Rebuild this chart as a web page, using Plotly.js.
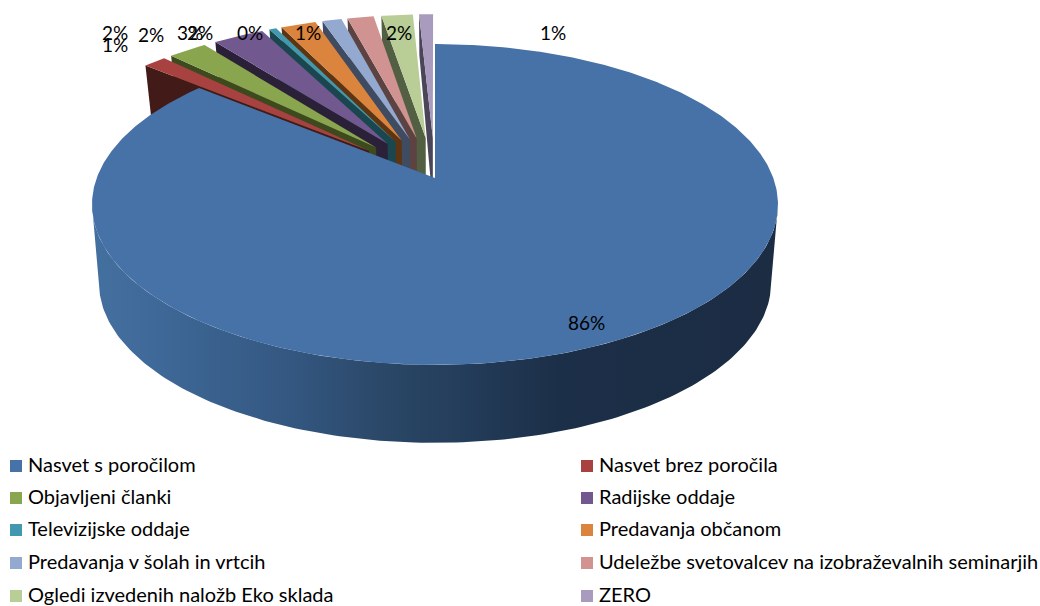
<!DOCTYPE html>
<html><head><meta charset="utf-8">
<script src="https://cdn.plot.ly/plotly-3.0.1.min.js"></script>
<style>html,body{margin:0;padding:0;background:#fff}</style></head>
<body><div id="chart" style="width:1040px;height:606px"></div>
<script>
const categories = ["Nasvet s poročilom","Nasvet brez poročila","Objavljeni članki","Radijske oddaje","Televizijske oddaje","Predavanja občanom","Predavanja v šolah in vrtcih","Udeležbe svetovalcev na izobraževalnih seminarjih","Ogledi izvedenih naložb Eko sklada","ZERO"];
const values = [86.0,1.3,2.2,2.9,0.4,2.0,1.1,1.5,1.8,0.8];
const faceColors = ["#4672a8","#a84240","#89a54e","#71588f","#4198af","#db843d","#93a9cf","#d19392","#b9cd96","#a99bbd"];
const wallColors = ["#1b2d45","#421a18","#3d4a1e","#2a2138","#1a4650","#5f3410","#3f4b60","#5c4342","#535f42","#4a4558"];
const labelX = [586,115,115,190,250,151,308,200,399,553];
const labelY = [322,44,32,32,32,34,32,32,32,32];
const legendX = [16,587,16,587,16,587,16,587,16,587];
const legendY = [466,466,498,498,530,530,563,563,596,596];

const CX=435, CY=178, A=338.3, B=156, P=0.165, H=78, S=0.98, EXPLODE=0.27;
const rad=d=>d*Math.PI/180;
function wall(v){return v<=-P?H:H-26*(v+P);}
function proj(u,v,low){const d=1+P*v;return [CX+A*(low?S:1)*u/d, CY-B*v/d+(low?wall(v):0)];}
function pt(thetaDeg,ox,oy,r,low){return proj(ox+r*Math.sin(rad(thetaDeg)),oy+r*Math.cos(rad(thetaDeg)),low);}
function poly(points,color,gradient){
  const t={type:'scatter',mode:'lines',x:points.map(p=>p[0]),y:points.map(p=>p[1]),fill:'toself',fillcolor:color,line:{width:0,color:color},hoverinfo:'skip',showlegend:false};
  if(gradient)t.fillgradient=gradient;
  return t;
}
const total=values.reduce((a,b)=>a+b,0);
let acc=0;
const slices=values.map((v,i)=>{const s=acc/total*360;acc+=v;return {i,start:s,end:acc/total*360};});
const traces=[];
// small slices, drawn from the back right towards the left
for(let k=slices.length-1;k>=1;k--){
  const sl=slices[k],mid=(sl.start+sl.end)/2;
  const ox=EXPLODE*Math.sin(rad(mid)),oy=EXPLODE*Math.cos(rad(mid));
  traces.push(poly([pt(0,ox,oy,0,false),pt(sl.start,ox,oy,1,false),pt(sl.start,ox,oy,1,true),pt(0,ox,oy,0,true)],wallColors[k]));
  const f=[pt(0,ox,oy,0,false)];
  for(let t=sl.start;t<sl.end;t+=0.5)f.push(pt(t,ox,oy,1,false));
  f.push(pt(sl.end,ox,oy,1,false));
  traces.push(poly(f,faceColors[k]));
}
// big slice wall: rim from one side extreme to the other, then back along the lower edge
const rimTop=[],rimBot=[];
for(let t=99.5;t<=260.5;t+=1){rimTop.push(pt(t,0,0,1,false));}
for(let t=104;t<=256;t+=1){rimBot.unshift(pt(t,0,0,1,true));}
traces.push(poly(rimTop.concat(rimBot),wallColors[0],{type:'horizontal',colorscale:[[0,'#44709f'],[0.1,'#3e6897'],[0.3,'#33567f'],[0.42,'#2b4868'],[0.55,'#233c59'],[0.68,'#1c2f48'],[1,'#1b2c43']]}));
// big slice face
const bf=[pt(0,0,0,0,false)];
for(let t=slices[0].start;t<slices[0].end;t+=0.5)bf.push(pt(t,0,0,1,false));
bf.push(pt(slices[0].end,0,0,1,false));
traces.push(poly(bf,faceColors[0]));
// legend rows
categories.forEach((c,i)=>traces.push({type:'scatter',mode:'markers',name:c,x:[legendX[i]],y:[legendY[i]],
  marker:{symbol:'square',size:12,color:faceColors[i]},hoverinfo:'skip',showlegend:false,cliponaxis:false}));
const annotations=values.map((v,i)=>({xref:'x',yref:'y',x:labelX[i],y:labelY[i],text:Math.round(v/total*100)+'%',showarrow:false,font:{family:'Lato, sans-serif',size:19,color:'#000'}}))
 .concat(categories.map((c,i)=>({xref:'x',yref:'y',x:legendX[i]+10,y:legendY[i]-2,xanchor:'left',text:c,showarrow:false,font:{family:'Lato, sans-serif',size:20,color:'#000'}})));
const hidden={visible:false,fixedrange:true};
Plotly.newPlot('chart',traces,{width:1040,height:606,margin:{l:0,r:0,t:0,b:0},paper_bgcolor:'#fff',plot_bgcolor:'#fff',
  xaxis:Object.assign({range:[0,1040]},hidden),yaxis:Object.assign({range:[606,0]},hidden),showlegend:false,annotations},{staticPlot:true,displayModeBar:false});
</script></body></html>
